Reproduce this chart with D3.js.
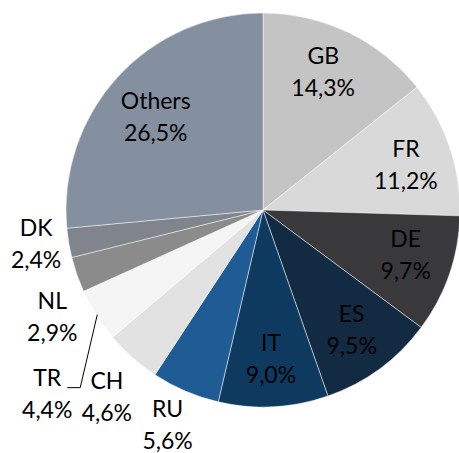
<!DOCTYPE html>
<html>
<head>
<meta charset="utf-8">
<script src="https://cdn.jsdelivr.net/npm/d3@7"></script>
<style>
  html, body { margin: 0; padding: 0; background: #fff; }
  svg { display: block; }
  text { font-family: Lato, "Open Sans", sans-serif; font-size: 23px; fill: #000; }
</style>
</head>
<body>
<svg id="chart" width="459" height="453"></svg>
<script>
// ---- data ----
const categories = ["GB", "FR", "DE", "ES", "IT", "RU", "CH", "TR", "NL", "DK", "Others"];
const shares = [14.3, 11.2, 9.7, 9.5, 9.0, 5.6, 4.6, 4.4, 2.9, 2.4, 26.5];

// ---- styles ----
const palette = ["#c4c4c4", "#d9d9d9", "#39393b", "#132a43", "#0f3a5f", "#1f5b95",
                 "#e2e2e2", "#f5f5f5", "#8b8b8b", "#80848c", "#848fa0"];

// label layout: radius (fraction of pie radius) and angular nudge (degrees)
const labelRadius = [0.76, 0.76, 0.76, 0.76, 0.76, 1.195, 1.24, 1.44, 1.20, 1.165, 0.72];
const labelNudge  = [-2, 1, -1.5, 0, 0, 0.7, -1.8, -8.2, -7.8, 1.0, -1.5];
const leaderFor = ["TR"];

const width = 459, height = 453;
const cx = 263, cy = 210, R = 197;

const svg = d3.select("#chart");
const g = svg.append("g").attr("transform", `translate(${cx},${cy})`);

const color = d3.scaleOrdinal().domain(categories).range(palette);
const pie = d3.pie().sort(null).value(d => d.value).startAngle(0).endAngle(2 * Math.PI);
const arc = d3.arc().innerRadius(0).outerRadius(R);

const data = categories.map((c, i) => ({ name: c, value: shares[i], i }));
const arcs = pie(data);

g.selectAll("path.slice")
  .data(arcs)
  .join("path")
  .attr("class", "slice")
  .attr("d", arc)
  .attr("fill", d => color(d.data.name))
  .attr("stroke", "#ffffff")
  .attr("stroke-width", 0.6)
  .attr("stroke-opacity", 0.8);

const locale = d3.formatLocale({ decimal: ",", thousands: ".", grouping: [3], currency: ["", "€"] });
const fmt = locale.format(".1f");

function polar(angle, r) {
  return [r * Math.sin(angle), -r * Math.cos(angle)];
}

const labels = g.selectAll("g.label")
  .data(arcs)
  .join("g")
  .attr("class", "label");

labels.each(function(d) {
  const i = d.data.i;
  const mid = (d.startAngle + d.endAngle) / 2 + labelNudge[i] * Math.PI / 180;
  const [x, y] = polar(mid, labelRadius[i] * R);
  const t = d3.select(this).append("text").attr("text-anchor", "middle");
  const t1 = t.append("tspan").attr("x", x).attr("y", y - 8.5).text(d.data.name);
  t.append("tspan").attr("x", x).attr("y", y + 23.5).text(fmt(d.data.value) + "%");
  if (leaderFor.includes(d.data.name)) {
    const w = t1.node().getComputedTextLength();
    const right = x + w / 2;
    const by = y - 8.5 + 2;
    const p0 = polar((d.startAngle + d.endAngle) / 2, R - 1);
    const line = d3.line();
    g.append("path")
      .attr("d", line([p0, [right + 19, by], [right + 6, by]]))
      .attr("fill", "none")
      .attr("stroke", "#000")
      .attr("stroke-width", 1);
  }
});
</script>
</body>
</html>
